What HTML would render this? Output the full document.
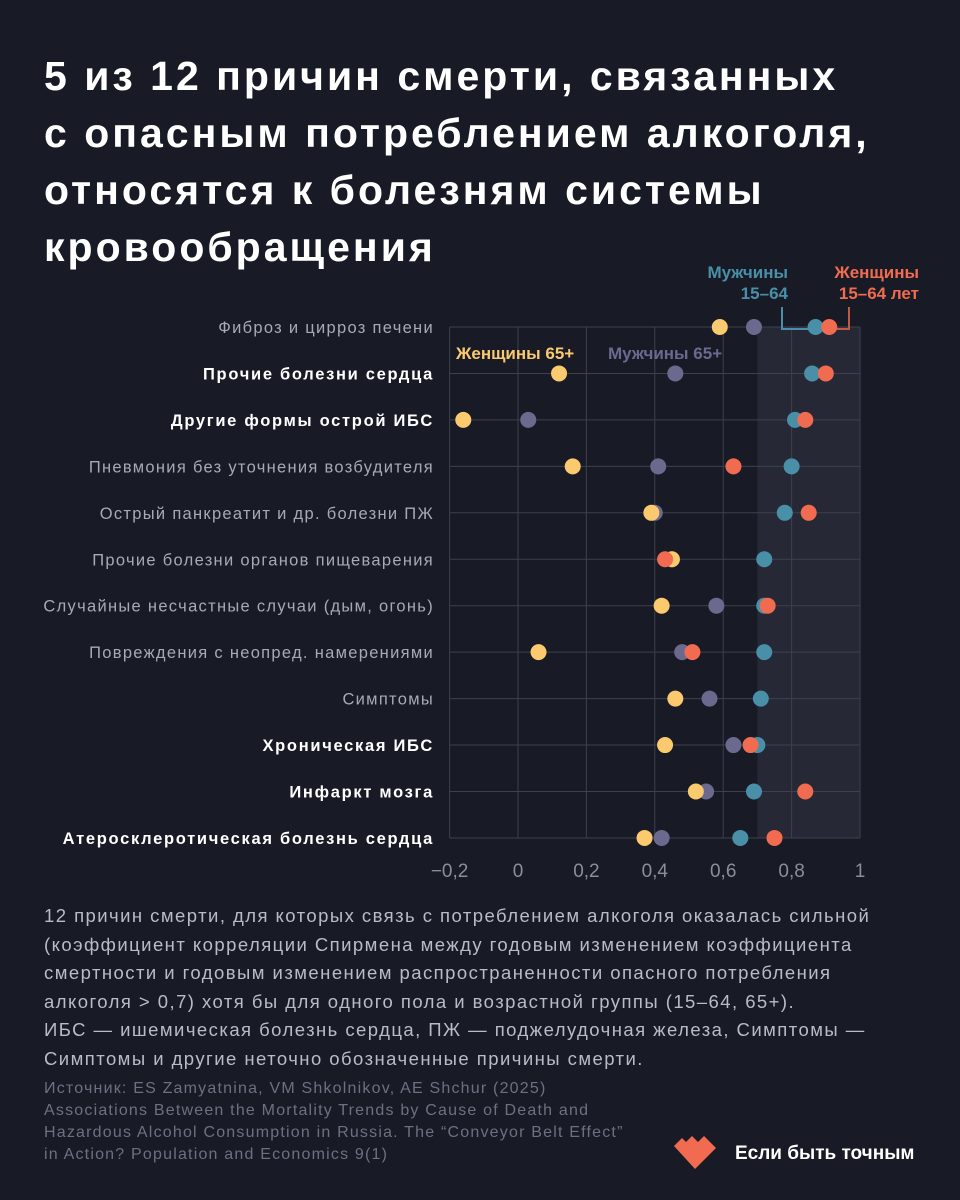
<!DOCTYPE html>
<html><head><meta charset="utf-8"><style>
body{margin:0;width:960px;height:1200px;background:#181b26;font-family:"Liberation Sans","Noto Sans CJK SC",sans-serif;overflow:hidden;position:relative;color:#fff}
h1{position:absolute;left:44px;top:48px;margin:0;font-size:41px;line-height:57px;font-weight:bold;letter-spacing:3px;white-space:nowrap}
.note{position:absolute;left:44px;top:902px;font-size:18.5px;line-height:28.6px;color:#b8bcc8;white-space:nowrap;letter-spacing:1.45px}
.src{position:absolute;left:44px;top:1078px;font-size:16px;line-height:22px;color:#6c7080;white-space:nowrap;letter-spacing:1.2px}
.brand{position:absolute;left:735px;top:1143px;font-size:19px;font-weight:bold}
</style></head><body>
<h1>5 из 12 причин смерти, связанных<br>с опасным потреблением алкоголя,<br>относятся к болезням системы<br>кровообращения</h1>
<svg id="chart" width="960" height="900" style="position:absolute;left:0;top:0"></svg>
<div class="note">12 причин смерти, для которых связь с потреблением алкоголя оказалась сильной<br>(коэффициент корреляции Спирмена между годовым изменением коэффициента<br>смертности и годовым изменением распространенности опасного потребления<br>алкоголя &gt; 0,7) хотя бы для одного пола и возрастной группы (15–64, 65+).<br>ИБС — ишемическая болезнь сердца, ПЖ — поджелудочная железа, Симптомы —<br>Симптомы и другие неточно обозначенные причины смерти.</div>
<div class="src">Источник: ES Zamyatnina, VM Shkolnikov, AE Shchur (2025)<br>Associations Between the Mortality Trends by  Cause of Death and<br>Hazardous Alcohol Consumption in Russia. The “Conveyor Belt Effect”<br>in Action? Population and Economics 9(1)</div>
<svg width="50" height="40" style="position:absolute;left:672px;top:1135px"><polygon points="2,11 10,3 14,7 20,1 26,7 32,1 44,13 23,34" fill="#f06b4f"/></svg>
<div class="brand">Если быть точным</div>
<script>
const categories=["Фиброз и цирроз печени","Прочие болезни сердца","Другие формы острой ИБС","Пневмония без уточнения возбудителя","Острый панкреатит и др. болезни ПЖ","Прочие болезни органов пищеварения","Случайные несчастные случаи (дым, огонь)","Повреждения с неопред. намерениями","Симптомы","Хроническая ИБС","Инфаркт мозга","Атеросклеротическая болезнь сердца"];
const boldRows=[false,true,true,false,false,false,false,false,false,true,true,true];
const women65=[0.59,0.12,-0.16,0.16,0.39,0.45,0.42,0.06,0.46,0.43,0.52,0.37];
const men65=[0.69,0.46,0.03,0.41,0.40,0.45,0.58,0.48,0.56,0.63,0.55,0.42];
const women1564=[0.91,0.90,0.84,0.63,0.85,0.43,0.73,0.51,null,0.68,0.84,0.75];
const men1564=[0.87,0.86,0.81,0.80,0.78,0.72,0.72,0.72,0.71,0.70,0.69,0.65];
const ticks=[-0.2,0,0.2,0.4,0.6,0.8,1];
const tickLabels=["−0,2","0","0,2","0,4","0,6","0,8","1"];
const NS="http://www.w3.org/2000/svg";
const svg=document.getElementById('chart');
const x=v=>518+v*342;
const y=i=>327+i*46.45;
function mk(t,a,p){const e=document.createElementNS(NS,t);for(const k in a)e.setAttribute(k,a[k]);(p||svg).appendChild(e);return e;}
let e=mk('rect',{x:x(0.7),y:y(0),width:x(1)-x(0.7),height:y(11)-y(0),fill:'#262935'});


ticks.forEach((t,i)=>{
 let l=mk('line',{x1:x(t),x2:x(t),y1:y(0),y2:y(11),stroke:'#3d404d','stroke-width':1});
 
 
 let tx=mk('text',{x:x(t),y:877,'text-anchor':'middle',fill:'#8a8e9a','font-size':19});
 tx.textContent=tickLabels[i];
 
 
});
categories.forEach((c,i)=>{
 let l=mk('line',{x1:x(-0.2),x2:x(1),y1:y(i),y2:y(i),stroke:'#3d404d','stroke-width':1});
 
 
 let t=mk('text',{x:434,y:y(i)+6,'text-anchor':'end',fill:boldRows[i]?'#ffffff':'#a6aab6','font-size':16.5,'font-weight':boldRows[i]?'bold':'normal','letter-spacing':boldRows[i]?1.7:1.3});
 t.textContent=c;
 
 
});
let b1=mk('path',{d:`M782 307 V329 H${x(men1564[0])}`,stroke:'#4a8fa8','stroke-width':2,fill:'none'});


let b2=mk('path',{d:`M849 307 V329 H${x(women1564[0])}`,stroke:'#c15a45','stroke-width':2,fill:'none'});


const series=[[women65,'#fbc96e','dot-women-65'],[men65,'#6b6a8e','dot-men-65'],[men1564,'#4a8fa8','dot-men-15-64'],[women1564,'#f06b4f','dot-women-15-64']];
const order=[1,0,2,3];
order.forEach(si=>{const [arr,col,nm]=series[si];arr.forEach((v,i)=>{if(v==null)return;
 let c=mk('circle',{cx:x(v),cy:y(i),r:8,fill:col});
 
 
});});
function lab(txt,xx,yy,col,anchor,nm){let t=mk('text',{x:xx,y:yy,'text-anchor':anchor,fill:col,'font-size':17,'font-weight':'bold'});t.textContent=txt;
 
 }
lab('Мужчины',788,278,'#4a8fa8','end','legend-men-15-64');
lab('15–64',788,299,'#4a8fa8','end','legend-men-15-64-age');
lab('Женщины',919,278,'#f06b4f','end','legend-women-15-64');
lab('15–64 лет',919,299,'#f06b4f','end','legend-women-15-64-age');
lab('Женщины 65+',456,359,'#fbc96e','start','legend-women-65');
lab('Мужчины 65+',608,359,'#6b6a8e','start','legend-men-65');
</script>
</body></html>
